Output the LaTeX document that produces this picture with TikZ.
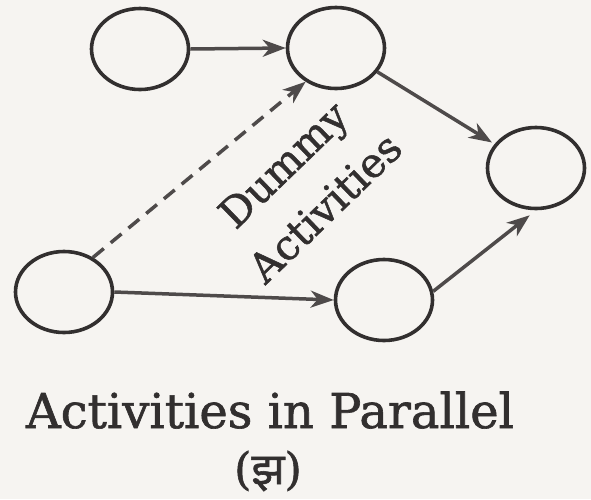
\documentclass[tikz,border=0pt]{standalone}
\usepackage{fontspec}
\setmainfont{DejaVu Serif}
\newfontfamily\heavyfont{DejaVu Serif}[FakeBold=1.3]
\newfontfamily\devfont[Script=Devanagari,FakeBold=1.3]{Noto Sans}
\usetikzlibrary{arrows.meta,shapes.geometric}
\definecolor{paper}{RGB}{246,244,241}
\definecolor{ink}{RGB}{50,47,47}
\definecolor{lineink}{RGB}{78,74,74}
\begin{document}
\begin{tikzpicture}[x=1pt,y=-1pt,
		event/.style={ellipse, draw=ink, line width=3.6pt, minimum width=97pt, minimum height=81pt, inner sep=0pt},
		act/.style={draw=lineink, line width=3.5pt, -{Stealth[length=23pt,width=17pt,inset=7pt]}},
		dummy/.style={act, dash pattern=on 14pt off 9pt}]
	\fill[paper] (0,0) rectangle (591,499);
	\useasboundingbox (0,0) rectangle (591,499);

	\foreach \n/\x/\y in {a/140/49, b/336/48, c/536/168, d/64/292, e/384/300}{
			\node[event] (\n) at (\x,\y) {};
		}

	\draw[act] (a.east) -- (b.west);
	\draw[act, shorten >=3pt] (b.330) -- (c.150);
	\draw[dummy] (d.50) -- (b.228);
	\draw[act] (d.east) -- (e.west);
	\draw[act, shorten >=8pt] (e.10) -- (c.south);

	\node[rotate=44, align=center, text=ink, font=\heavyfont\fontsize{41}{60}\selectfont] (lbl) at (304,186) {Dummy\\Activities};
	\node[text=ink, font=\heavyfont\fontsize{48}{52}\selectfont, anchor=base] (title) at (270,428) {Activities in Parallel};
	\node[text=ink, font=\heavyfont\fontsize{44}{48}\selectfont] (tag) at (268,471) {({\devfont झ})};
\end{tikzpicture}
\end{document}
